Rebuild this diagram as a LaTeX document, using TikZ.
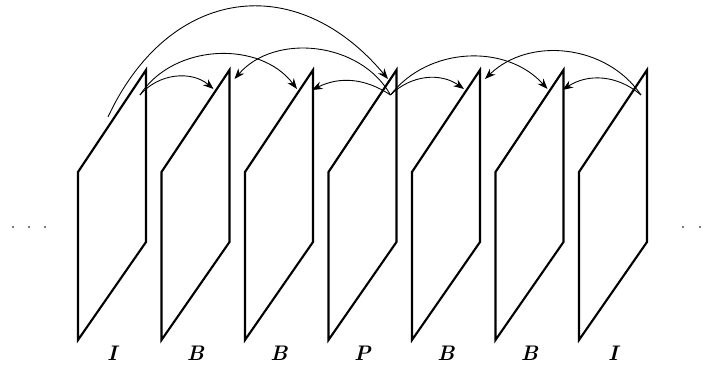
\documentclass[tikz,border=0pt]{standalone}
\usepackage{amsmath,amssymb}
\usepackage{tikz}
\usetikzlibrary{arrows.meta,positioning}

\begin{document}
\begin{tikzpicture}[
  frame/.style={line width=1.2pt, line join=miter},
  pred/.style={-{Stealth[length=6pt,width=4.5pt]}, line width=0.5pt},
  ftype/.style={font=\large\bfseries\itshape},
  >=Stealth
]

\path[use as bounding box] (0,0) rectangle (14.22,7.62);

% Frames of the group, with their picture types.
\foreach \i/\kind in {0/I, 1/B, 2/B, 3/P, 4/B, 5/B, 6/I} {
  \pgfmathsetmacro{\xl}{1.56 + 1.67*\i}
  \pgfmathsetmacro{\xr}{\xl + 1.36}
  \draw[frame] (\xl,0.82) -- (\xl,4.18) -- (\xr,6.22) -- (\xr,2.78) -- cycle;
  \coordinate (f\i-src) at (\xr-0.12, 5.72);
  \coordinate (f\i-fwd) at (\xr-0.32, 5.84);
  \coordinate (f\i-bkn) at (\xr-0.02, 5.82);
  \coordinate (f\i-bkf) at (\xr+0.10, 6.04);
  \node[ftype] (lbl\i) at (\xl+0.68, 0.56) {\kind};
}
\coordinate (f0-far) at (2.16,5.28);
\coordinate (f3-top) at (7.76,6.04);

% Sequence continues on both sides.
\foreach \x in {0.26, 0.58, 0.90, 13.66, 14.00} {
  \fill[black!70] (\x,3.08) circle (0.7pt);
}

% Forward prediction.
\draw[pred] (f0-far) to[out=65, in=130, looseness=1.3] (f3-top);
\draw[pred] (f0-src) to[bend left=45] (f1-fwd);
\draw[pred] (f0-src) to[bend left=55] (f2-fwd);
\draw[pred] (f3-src) to[bend left=40] (f4-fwd);
\draw[pred] (f3-src) to[bend left=50] (f5-fwd);

% Backward prediction.
\draw[pred] (f3-src) to[bend right=55] (f1-bkf);
\draw[pred] (f3-src) to[bend right=30] (f2-bkn);
\draw[pred] (f6-src) to[bend right=50] (f4-bkf);
\draw[pred] (f6-src) to[bend right=37] (f5-bkn);

\end{tikzpicture}
\end{document}
